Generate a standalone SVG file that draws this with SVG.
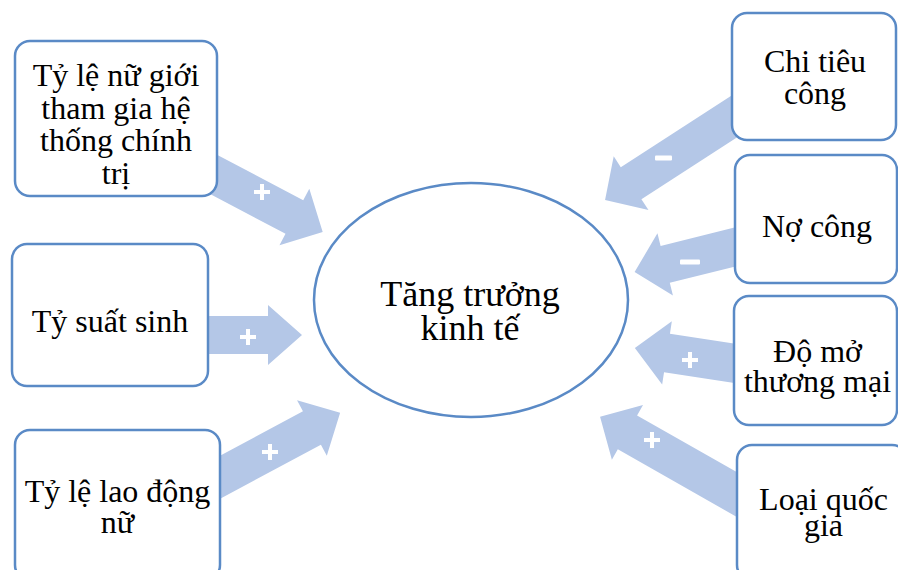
<svg xmlns="http://www.w3.org/2000/svg" width="898" height="570" viewBox="0 0 898 570">
  <style>
    .box { fill: #ffffff; stroke: #5a8ac6; stroke-width: 2.5; }
    .hub { fill: #ffffff; stroke: #5a8ac6; stroke-width: 2.5; }
    .arrow { fill: #b4c7e7; }
    .sign { stroke: #ffffff; stroke-width: 4; fill: none; }
    .lbl { font-family: "Liberation Serif", "Times New Roman", serif; font-size: 32px; fill: #000000; text-anchor: middle; }
    .hub-lbl { font-family: "Liberation Serif", "Times New Roman", serif; font-size: 36px; fill: #000000; text-anchor: middle; }
  </style>

  <!-- block arrows pointing at the hub, drawn under the boxes -->
  <g id="connectors">
    <g transform="translate(190,162) rotate(27.8)">
      <polygon class="arrow" points="0,-19 118,-19 118,-32 150,0 118,32 118,19 0,19"/>
    </g>
    <g transform="translate(190,335)">
      <polygon class="arrow" points="0,-19 78,-19 78,-30 112,0 78,30 78,19 0,19"/>
    </g>
    <g transform="translate(200,488) rotate(-28.2)">
      <polygon class="arrow" points="0,-19 127,-19 127,-31.5 159,0 127,31.5 127,19 0,19"/>
    </g>
    <g transform="translate(752,105) rotate(147.1)">
      <polygon class="arrow" points="0,-19 144,-19 144,-32 175,0 144,32 144,19 0,19"/>
    </g>
    <g transform="translate(753,242.5) rotate(166)">
      <polygon class="arrow" points="0,-19 90.5,-19 90.5,-32 122,0 90.5,32 90.5,19 0,19"/>
    </g>
    <g transform="translate(752,366) rotate(-171.3)">
      <polygon class="arrow" points="0,-19.5 86,-19.5 86,-32 118.5,0 86,32 86,19.5 0,19.5"/>
    </g>
    <g transform="translate(757,506) rotate(-150.4)">
      <polygon class="arrow" points="0,-19.5 149,-19.5 149,-31.5 180.5,0 149,31.5 149,19.5 0,19.5"/>
    </g>

    <!-- effect signs -->
    <path class="sign" d="M254,192 h16 M262,184 v16"/>
    <path class="sign" d="M240,337 h16 M248,329 v16"/>
    <path class="sign" d="M262,452 h16 M270,444 v16"/>
    <rect x="655" y="155.5" width="17" height="5" rx="1" fill="#ffffff"/>
    <rect x="680" y="259.5" width="20" height="5" rx="1" fill="#ffffff"/>
    <path class="sign" d="M682,360 h16 M690,352 v16"/>
    <path class="sign" d="M644,440 h16 M652,432 v16"/>
  </g>

  <g id="hub">
    <ellipse class="hub" cx="471" cy="300" rx="157" ry="117"/>
    <text class="hub-lbl" x="470" y="306">Tăng trưởng</text>
    <text class="hub-lbl" x="470" y="340">kinh tế</text>
  </g>

  <g id="node-nu-chinh-tri">
    <rect class="box" x="15" y="41" width="202" height="155" rx="15"/>
    <text class="lbl" x="116" y="86">Tỷ lệ nữ giới</text>
    <text class="lbl" x="116" y="118.5">tham gia hệ</text>
    <text class="lbl" x="116" y="151">thống chính</text>
    <text class="lbl" x="116" y="183.5">trị</text>
  </g>

  <g id="node-ty-suat-sinh">
    <rect class="box" x="12" y="244" width="196" height="142" rx="15"/>
    <text class="lbl" x="110" y="332">Tỷ suất sinh</text>
  </g>

  <g id="node-lao-dong-nu">
    <rect class="box" x="15" y="430" width="205" height="150" rx="15"/>
    <text class="lbl" x="117.5" y="502">Tỷ lệ lao động</text>
    <text class="lbl" x="117.5" y="533">nữ</text>
  </g>

  <g id="node-chi-tieu-cong">
    <rect class="box" x="732" y="13" width="164" height="127" rx="15"/>
    <text class="lbl" x="815" y="72">Chi tiêu</text>
    <text class="lbl" x="815" y="104">công</text>
  </g>

  <g id="node-no-cong">
    <rect class="box" x="735" y="155" width="162" height="128" rx="15"/>
    <text class="lbl" x="817" y="237">Nợ công</text>
  </g>

  <g id="node-do-mo">
    <rect class="box" x="734" y="296" width="163" height="129" rx="15"/>
    <text class="lbl" x="817.5" y="362">Độ mở</text>
    <text class="lbl" x="817.5" y="392">thương mại</text>
  </g>

  <g id="node-loai-quoc-gia">
    <rect class="box" x="737" y="445" width="170" height="135" rx="15"/>
    <text class="lbl" x="823.5" y="510">Loại quốc</text>
    <text class="lbl" x="823.5" y="536">gia</text>
  </g>
</svg>
